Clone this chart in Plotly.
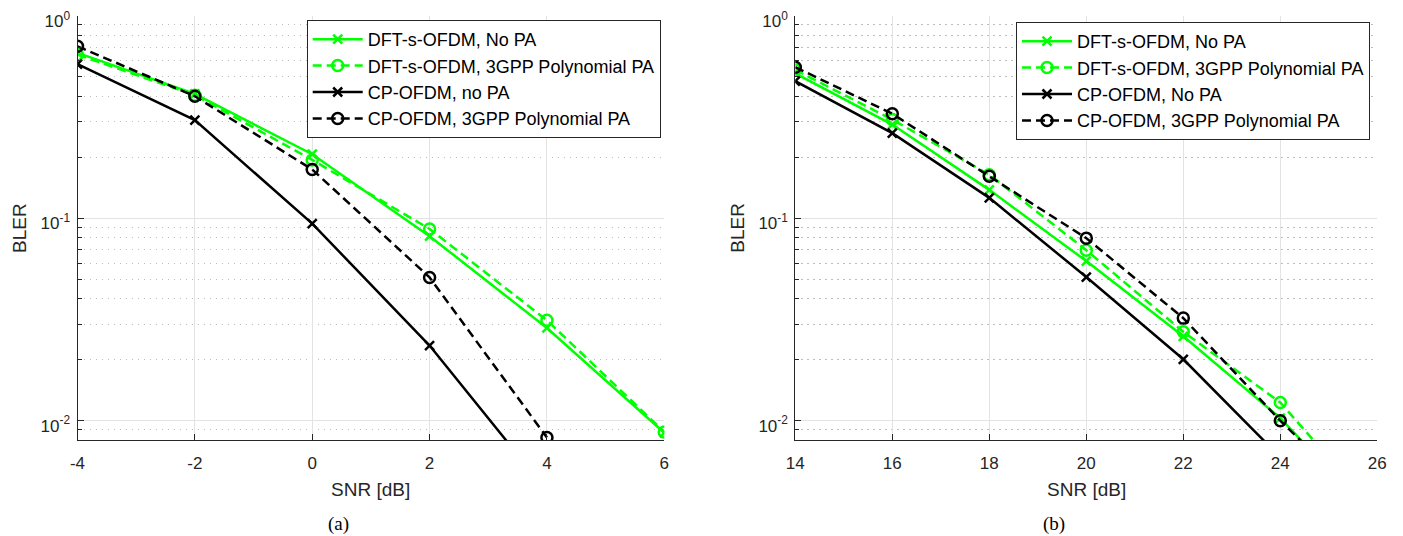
import numpy as np
import plotly.graph_objects as go

# SNR grids (dB)
snr_a = [-4, -2, 0, 2, 4, 6]
snr_b = [14, 16, 18, 20, 22, 24, 26]

# Tick labels
x_ticktext_a = ["-4", "-2", "0", "2", "4", "6"]
x_ticktext_b = ["14", "16", "18", "20", "22", "24", "26"]
y_ticks = [0.01, 0.1, 1]
y_ticktext = ["10<sup>-2</sup>", "10<sup>-1</sup>", "10<sup>0</sup>"]

# Panel (a) BLER curves
dft_nopa_a = [0.655, 0.411, 0.207, 0.0815, 0.0287, 0.0087]
dft_pa_a = [0.642, 0.405, 0.194, 0.0885, 0.0313, 0.0088]
cp_nopa_a = [0.576, 0.305, 0.094, 0.0235, 0.0045]
cp_pa_a = [0.706, 0.400, 0.174, 0.051, 0.00826]

# Panel (b) BLER curves
dft_nopa_b = [0.519, 0.290, 0.138, 0.0614, 0.0261, 0.0103, 0.0032]
dft_pa_b = [0.540, 0.307, 0.164, 0.0695, 0.0275, 0.0123, 0.0035]
cp_nopa_b = [0.475, 0.263, 0.126, 0.0512, 0.0201, 0.0066]
cp_pa_b = [0.557, 0.328, 0.161, 0.0797, 0.0321, 0.0100, 0.0034]

labels_a = ["DFT-s-OFDM, No PA", "DFT-s-OFDM, 3GPP Polynomial PA",
            "CP-OFDM, no PA", "CP-OFDM, 3GPP Polynomial PA"]
labels_b = ["DFT-s-OFDM, No PA", "DFT-s-OFDM, 3GPP Polynomial PA",
            "CP-OFDM, No PA", "CP-OFDM, 3GPP Polynomial PA"]

y_minor = [0.008, 0.009] + [k * 0.01 for k in range(2, 10)] + [k * 0.1 for k in range(2, 10)]

GREEN = "#00ff00"
BLACK = "#000000"
AXC = "#262626"
FONT = "Liberation Sans, Arial, Helvetica, sans-serif"

W, H = 1403, 536

fig = go.Figure()


def add_curves(x, series, labels, xa, ya, legend):
    styles = [
        (GREEN, "solid", "x-thin-open", 9),
        (GREEN, "9px,5px", "circle-open", 11),
        (BLACK, "solid", "x-thin-open", 9),
        (BLACK, "9px,5px", "circle-open", 11),
    ]
    for vals, lab, (c, dash, sym, ms) in zip(series, labels, styles):
        fig.add_trace(go.Scatter(
            x=x[:len(vals)], y=vals, name=lab, mode="lines+markers",
            line=dict(color=c, width=2.5, dash=dash),
            marker=dict(symbol=sym, size=ms, color=c, line=dict(color=c, width=2.5)),
            xaxis=xa, yaxis=ya, legend=legend, cliponaxis=True,
        ))


add_curves(snr_a, [dft_nopa_a, dft_pa_a, cp_nopa_a, cp_pa_a], labels_a, "x", "y", "legend")
add_curves(snr_b, [dft_nopa_b, dft_pa_b, cp_nopa_b, cp_pa_b], labels_b, "x2", "y2", "legend2")

x_dom_a = [77.5 / W, 664.3 / W]
x_dom_b = [795.3 / W, 1377.3 / W]
y_dom = [1 - 440.3 / H, 1 - 15.7 / H]

common_x = dict(
    showline=True, linecolor=AXC, linewidth=1, mirror=False,
    ticks="inside", ticklen=6, tickcolor=AXC, tickwidth=1,
    showgrid=True, gridcolor="#e3e3e3", gridwidth=1, zeroline=False,
    tickfont=dict(family=FONT, size=17, color=AXC),
    ticklabelstandoff=7, automargin=False,
)
common_y = dict(
    type="log", range=[np.log10(0.008), 0],
    showline=True, linecolor=AXC, linewidth=1, mirror=False,
    ticks="inside", ticklen=6, tickcolor=AXC, tickwidth=1,
    showgrid=True, gridcolor="#e3e3e3", gridwidth=1, zeroline=False,
    tickvals=y_ticks, ticktext=y_ticktext,
    tickfont=dict(family=FONT, size=17, color=AXC),
    minor=dict(tickvals=y_minor, ticks="inside", ticklen=4, tickcolor=AXC,
               showgrid=True, gridcolor="#bdbdbd", griddash="1.5px,4.5px", gridwidth=1),
    domain=y_dom, automargin=False, ticklabelstandoff=3, ticklabelshift=5,
)

legend_common = dict(
    xanchor="right", yanchor="top",
    bgcolor="white", bordercolor=AXC, borderwidth=1,
    font=dict(family=FONT, size=18, color="#000000"),
    tracegroupgap=0, itemwidth=50,
)

fig.update_layout(
    width=W, height=H,
    margin=dict(l=0, r=0, t=0, b=0, autoexpand=False),
    paper_bgcolor="white", plot_bgcolor="white",
    xaxis=dict(**common_x, range=[-4, 6], domain=x_dom_a, anchor="y",
               tickvals=snr_a, ticktext=x_ticktext_a),
    yaxis=dict(**common_y, anchor="x"),
    xaxis2=dict(**common_x, range=[14, 26], domain=x_dom_b, anchor="y2",
                tickvals=snr_b, ticktext=x_ticktext_b),
    yaxis2=dict(**common_y, anchor="x2"),
    showlegend=True,
    legend=dict(**legend_common, x=660.7 / W, y=1 - 20 / H),
    legend2=dict(**legend_common, x=1370 / W, y=1 - 22 / H),
)

# Axis titles and panel captions
for cx, bx in [((77.5 + 664.3) / 2, 19), ((795.3 + 1377.3) / 2, 736.7)]:
    fig.add_annotation(text="SNR [dB]", x=cx / W, y=1 - 489 / H, xref="paper", yref="paper",
                       showarrow=False, font=dict(family=FONT, size=19, color=AXC),
                       xanchor="center", yanchor="middle")
    fig.add_annotation(text="BLER", x=bx / W, y=1 - 228 / H, xref="paper", yref="paper",
                       showarrow=False, textangle=-90, font=dict(family=FONT, size=19, color=AXC),
                       xanchor="center", yanchor="middle")

for cap, cx in [("(a)", 338), ("(b)", 1054)]:
    fig.add_annotation(text=cap, x=cx / W, y=1 - 524 / H, xref="paper", yref="paper",
                       showarrow=False,
                       font=dict(family="Liberation Serif, Times New Roman, serif", size=19, color="#000000"),
                       xanchor="center", yanchor="middle")

fig.write_html("out.html")
